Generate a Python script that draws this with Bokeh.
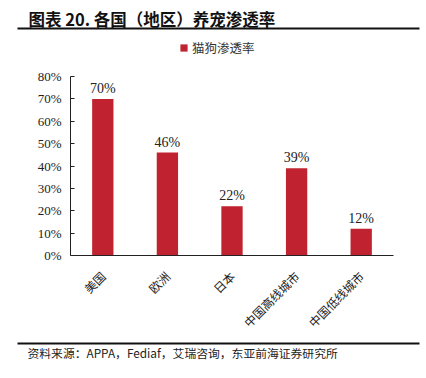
import math
from bokeh.plotting import figure
from bokeh.layouts import column, row
from bokeh.models import (ColumnDataSource, Label, BoxAnnotation, Legend, LegendItem, FactorRange,
                          Range1d, FixedTicker, LabelSet, CustomJSTickFormatter)
from bokeh.embed import file_html
from bokeh.resources import INLINE

categories = ["美国", "欧洲", "日本", "中国高线城市", "中国低线城市"]
rates = [70, 46, 22, 39, 12]
rate_labels = ["70%", "46%", "22%", "39%", "12%"]
y_ticks = [0, 10, 20, 30, 40, 50, 60, 70, 80]
series_name = "猫狗渗透率"
title_text = "图表 20. 各国（地区）养宠渗透率"
source_text = "资料来源：APPA，Fediaf，艾瑞咨询，东亚前海证券研究所"

BAR = "#C0232F"
CJK = "Noto Sans CJK SC"
SERIF = "Liberation Serif"
W = 426


def blank(h):
    f = figure(width=W, height=h, x_range=Range1d(0, W), y_range=Range1d(h, 0),
               output_backend="svg", toolbar_location=None,
               x_axis_location=None, y_axis_location=None, min_border=0,
               min_border_left=0, min_border_right=0, min_border_top=0, min_border_bottom=0)
    f.outline_line_color = None
    f.grid.grid_line_color = None
    return f


# header: title, rule, legend
head = blank(62)
head.add_layout(Label(x=28, y=18, text=title_text, text_font=CJK, text_font_size="16.5px",
                      text_font_style="bold", text_baseline="middle", text_color="#111111"))
head.add_layout(BoxAnnotation(left=17, right=419, top=27, bottom=29,
                              fill_color="#111111", fill_alpha=1, line_color=None))
# zero-size proxy glyph that only supplies the legend swatch
proxy = head.quad(left=[0], right=[0], top=[0], bottom=[0], fill_color=BAR, line_color=None)
legend = Legend(items=[LegendItem(label=series_name, renderers=[proxy])], location=(179, 5),
                orientation="horizontal", glyph_width=9, glyph_height=9, padding=0, margin=0,
                label_text_font=CJK, label_text_font_size="12.5px", label_text_color="#333333",
                border_line_color=None, background_fill_alpha=0, label_standoff=4)
head.add_layout(legend, "center")

# main chart
src = ColumnDataSource(dict(cat=categories, val=rates, lab=rate_labels))
p = figure(width=W, height=277, x_range=FactorRange(*categories, range_padding=0),
           y_range=Range1d(0, 80), output_backend="svg", toolbar_location=None,
           min_border_left=70, min_border_right=33, min_border_top=14, min_border_bottom=84)
p.outline_line_color = None
p.grid.grid_line_color = None

p.vbar(x="cat", top="val", width=0.33, source=src, fill_color=BAR, line_color=None)
p.add_layout(LabelSet(x="cat", y="val", text="lab", source=src, y_offset=3,
                      text_align="center", text_baseline="bottom",
                      text_font=SERIF, text_font_size="14px", text_color="#222222"))

ya = p.yaxis[0]
ya.ticker = FixedTicker(ticks=y_ticks)
ya.formatter = CustomJSTickFormatter(code="return tick + '%'")
ya.major_tick_in = 4
ya.major_tick_out = 0
ya.minor_tick_line_color = None
ya.axis_line_color = "#222222"
ya.major_tick_line_color = "#222222"
ya.major_label_text_font = SERIF
ya.major_label_text_font_size = "13px"
ya.major_label_text_color = "#222222"
ya.major_label_standoff = 9

xa = p.xaxis[0]
xa.major_tick_line_color = None
xa.minor_tick_line_color = None
xa.axis_line_color = "#222222"
xa.major_label_orientation = math.pi / 4
xa.major_label_text_font = CJK
xa.major_label_text_font_size = "12px"
xa.major_label_text_color = "#222222"
xa.major_label_standoff = 12

# footer: rule and source
foot = blank(39)
foot.add_layout(BoxAnnotation(left=17, right=419, top=3, bottom=5,
                              fill_color="#111111", fill_alpha=1, line_color=None))
foot.add_layout(Label(x=27, y=13, text=source_text, text_font=CJK, text_font_size="11.8px",
                      text_baseline="middle", text_color="#222222"))

layout = column(row(head), row(p), row(foot), spacing=0)
open("out.html", "w").write(file_html(layout, INLINE))
